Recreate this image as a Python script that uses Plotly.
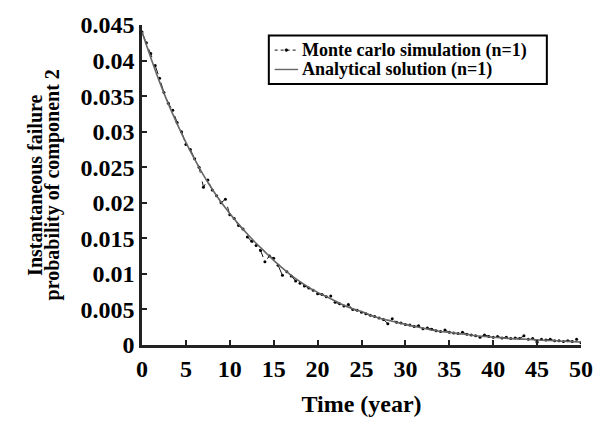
import plotly.graph_objects as go

# ---- data ----
t_analytical = list(range(0, 51))
p_analytical = [0.0440, 0.0404, 0.0370, 0.0339, 0.0311, 0.0285, 0.0261, 0.0239, 0.0219, 0.0201,
                0.0185, 0.0170, 0.0156, 0.0143, 0.0131, 0.0119, 0.0108, 0.0098, 0.0089, 0.0081,
                0.0074, 0.0068, 0.0062, 0.0056, 0.0051, 0.0047, 0.0042, 0.0038, 0.0035, 0.0032,
                0.0029, 0.0026, 0.0024, 0.0021, 0.0019, 0.0018, 0.0016, 0.0015, 0.0013, 0.0012,
                0.0011, 0.0010, 0.0009, 0.00085, 0.0008, 0.00072, 0.00065, 0.0006, 0.00052, 0.00047,
                0.00042]

t_mc = [i * 0.5 for i in range(101)]
p_mc = [0.0440, 0.0425, 0.0410, 0.0393, 0.0375, 0.0355, 0.0340, 0.0330, 0.0313, 0.0300,
        0.0282, 0.0275, 0.0262, 0.0250, 0.0222, 0.0232, 0.0218, 0.0210, 0.0200, 0.0205,
        0.0183, 0.0178, 0.0168, 0.0163, 0.0152, 0.0146, 0.0140, 0.0133, 0.0117, 0.0125,
        0.0122, 0.0112, 0.0098, 0.0103, 0.0097, 0.0090, 0.0087, 0.0083, 0.0080, 0.0077,
        0.0072, 0.0071, 0.0068, 0.0069, 0.0060, 0.0058, 0.0055, 0.0057, 0.0050, 0.0049,
        0.0046, 0.0044, 0.0042, 0.0040, 0.0038, 0.0036, 0.0030, 0.0037, 0.0032, 0.0031,
        0.0029, 0.0028, 0.0026, 0.0027, 0.0023, 0.0024, 0.0022, 0.0020, 0.0019, 0.0021,
        0.0018, 0.0017, 0.0016, 0.0018, 0.0015, 0.0014, 0.0013, 0.0011, 0.0014, 0.0012,
        0.0011, 0.0012, 0.0010, 0.0011, 0.0009, 0.0010, 0.0009, 0.0013, 0.0008, 0.0009,
        0.0004, 0.0008, 0.0007, 0.0008, 0.0006, 0.0006, 0.0005, 0.0006, 0.0005, 0.0008,
        0.0003]

series_names = ["Monte carlo simulation (n=1)", "Analytical solution (n=1)"]

x_ticks = [0, 5, 10, 15, 20, 25, 30, 35, 40, 45, 50]
y_ticks = [0, 0.005, 0.01, 0.015, 0.02, 0.025, 0.03, 0.035, 0.04, 0.045]
y_tick_labels = ["0", "0.005", "0.01", "0.015", "0.02", "0.025", "0.03", "0.035", "0.04", "0.045"]

FONT = "Liberation Serif"
MC_COLOR = "#111111"
AN_COLOR = "#666666"

fig = go.Figure()
fig.add_trace(go.Scatter(
    x=t_mc, y=p_mc, mode="lines+markers", name=series_names[0],
    line=dict(color=MC_COLOR, width=1, dash="dash"),
    marker=dict(color="#000000", size=3),
))
fig.add_trace(go.Scatter(
    x=t_analytical, y=p_analytical, mode="lines", name=series_names[1],
    line=dict(color=AN_COLOR, width=1.6, shape="spline"),
))

axis_common = dict(
    showline=True, linecolor="#222222", linewidth=2.5, mirror=False,
    ticks="inside", ticklen=5, tickwidth=1.5, tickcolor="#222222",
    showgrid=False, zeroline=False,
    tickfont=dict(family=FONT, size=24, color="black"),
)

# legend box drawn in paper coordinates (decoration only)
lx0, lx1, ly0, ly1 = 0.2889, 0.9222, 0.8157, 0.9668
row_y = [0.9215, 0.8610]
sym_x0, sym_x1, txt_x = 0.3022, 0.3556, 0.3622

shapes = [
    dict(type="rect", xref="paper", yref="paper", x0=lx0, x1=lx1, y0=ly0, y1=ly1,
         line=dict(color="black", width=2), fillcolor="white", layer="above"),
    dict(type="line", xref="paper", yref="paper", x0=sym_x0, x1=sym_x1, y0=row_y[0], y1=row_y[0],
         line=dict(color=MC_COLOR, width=1, dash="3px,3px")),
    dict(type="circle", xref="paper", yref="paper",
         x0=(sym_x0 + sym_x1) / 2 - 0.0033, x1=(sym_x0 + sym_x1) / 2 + 0.0033,
         y0=row_y[0] - 0.0045, y1=row_y[0] + 0.0045,
         line=dict(color="black", width=0.5), fillcolor="black"),
    dict(type="line", xref="paper", yref="paper", x0=sym_x0, x1=sym_x1, y0=row_y[1], y1=row_y[1],
         line=dict(color=AN_COLOR, width=1.4)),
]

annotations = [
    dict(text=f"<b>{name}</b>", xref="paper", yref="paper", x=txt_x, y=yy,
         xanchor="left", yanchor="middle", showarrow=False, borderpad=0,
         font=dict(family=FONT, size=18, color="black"))
    for name, yy in zip(series_names, row_y)
] + [
    dict(text="<b>Instantaneous failure</b>", xref="paper", yref="paper",
         x=-0.244, y=0.5, xanchor="center", yanchor="middle", textangle=-90,
         showarrow=False, font=dict(family=FONT, size=20, color="black")),
    dict(text="<b>probability of component 2</b>", xref="paper", yref="paper",
         x=-0.204, y=0.5, xanchor="center", yanchor="middle", textangle=-90,
         showarrow=False, font=dict(family=FONT, size=20, color="black")),
]

fig.update_layout(
    width=605, height=425,
    margin=dict(l=142, r=13, t=22, b=72),
    paper_bgcolor="white", plot_bgcolor="white",
    font=dict(family=FONT, color="black"),
    xaxis=dict(range=[0, 50], tickvals=x_ticks, ticktext=[f"<b>{v}</b>" for v in x_ticks],
               title=dict(text="<b>Time (year)</b>", font=dict(family=FONT, size=24)),
               **axis_common),
    yaxis=dict(range=[0, 0.045], tickvals=y_ticks, ticktext=[f"<b>{v}</b>" for v in y_tick_labels],
               **axis_common),
    showlegend=False,
    shapes=shapes,
    annotations=annotations,
)

fig.write_html("out.html", config={"displayModeBar": False},
               post_script="document.body.style.margin='0';")
